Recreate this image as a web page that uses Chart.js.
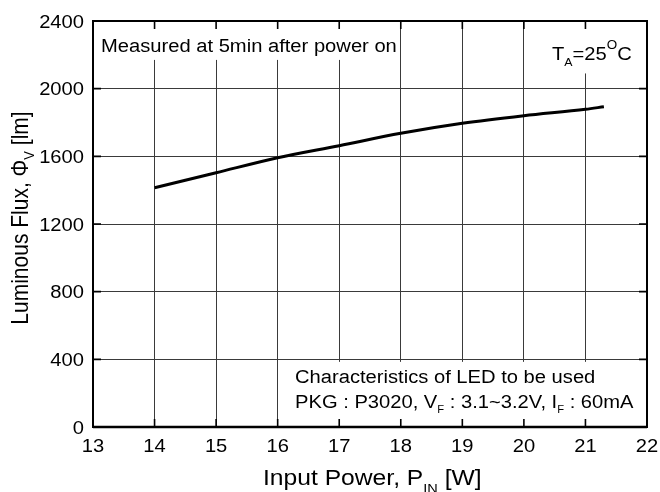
<!DOCTYPE html>
<html>
<head>
<meta charset="utf-8">
<script src="https://cdn.jsdelivr.net/npm/chart.js@4.4.1/dist/chart.umd.min.js"></script>
<style>
  html, body { margin: 0; padding: 0; background: #fff; }
  canvas { display: block; }
</style>
</head>
<body>
<canvas id="flux_chart" width="660" height="492"></canvas>
<script>
// data
const inputPower = [14, 15, 16, 17, 18, 19, 20, 21, 21.3];
const luminousFlux = [1414, 1503, 1592, 1663, 1736, 1795, 1840, 1878, 1893];
const xTicks = [13, 14, 15, 16, 17, 18, 19, 20, 21, 22];
const yTicks = [0, 400, 800, 1200, 1600, 2000, 2400];

const FONT = '"Liberation Sans", Arial, sans-serif';
const SX = 1.12; // the reference text is a little wide

// draw text made of pieces (for sub/superscripts)
function drawRich(ctx, segs, x, y, align) {
    let w = 0;
    segs.forEach(s => {
        ctx.font = s[1] + 'px ' + FONT;
        w += ctx.measureText(s[0]).width;
    });
    w *= SX;
    let start = x;
    if (align === 'right') start = x - w;
    if (align === 'center') start = x - w / 2;
    ctx.save();
    ctx.translate(start, y);
    ctx.scale(SX, 1);
    ctx.fillStyle = '#000';
    ctx.textAlign = 'left';
    ctx.textBaseline = 'alphabetic';
    let cx = 0;
    segs.forEach(s => {
        ctx.font = s[1] + 'px ' + FONT;
        ctx.fillText(s[0], cx, s[2] || 0);
        cx += ctx.measureText(s[0]).width;
    });
    ctx.restore();
}

// boxes, ticks, frame and all text
const decorPlugin = {
    id: 'decor',
    afterDraw(chart) {
        const ctx = chart.ctx;
        const xs = chart.scales.x, ys = chart.scales.y;
        const a = chart.chartArea;
        const px = v => xs.getPixelForValue(v);
        const py = v => ys.getPixelForValue(v);

        // white boxes behind the notes
        ctx.save();
        ctx.fillStyle = '#fff';
        ctx.fillRect(a.left, a.top, px(17.94) - a.left, py(2170) - a.top);
        ctx.fillRect(px(20.3), a.top, a.right - px(20.3), py(2090) - a.top);
        ctx.fillRect(px(16) + 1, py(385), a.right - px(16) - 1, a.bottom - py(385));
        ctx.restore();

        // inner ticks
        ctx.save();
        ctx.strokeStyle = '#000';
        ctx.lineWidth = 1.6;
        ctx.beginPath();
        xTicks.forEach(v => {
            const x = px(v);
            ctx.moveTo(x, a.bottom); ctx.lineTo(x, a.bottom - 8);
            ctx.moveTo(x, a.top); ctx.lineTo(x, a.top + 8);
        });
        yTicks.forEach(v => {
            const y = py(v);
            ctx.moveTo(a.left, y); ctx.lineTo(a.left + 8, y);
            ctx.moveTo(a.right, y); ctx.lineTo(a.right - 8, y);
        });
        ctx.stroke();

        // frame
        ctx.lineWidth = 2;
        ctx.strokeRect(a.left, a.top, a.right - a.left, a.bottom - a.top);
        ctx.beginPath();
        ctx.moveTo(a.left, a.bottom); ctx.lineTo(a.right, a.bottom);
        ctx.lineWidth = 2.5;
        ctx.stroke();
        ctx.restore();

        // tick labels
        xTicks.forEach(v => drawRich(ctx, [[String(v), 18]], px(v), 452, 'center'));
        yTicks.forEach(v => drawRich(ctx, [[String(v), 18]], 84, py(v) + 6.5, 'right'));

        // axis titles
        drawRich(ctx, [['Input Power, P', 22], ['IN', 13, 8], [' [W]', 22]], 263, 485, 'left');
        ctx.save();
        ctx.translate(28, 218);
        ctx.rotate(-Math.PI / 2);
        ctx.scale(1 / SX, SX);
        drawRich(ctx, [['Luminous Flux, \u03A6', 21], ['V', 13, 5], [' [lm]', 21]], 0, 0, 'center');
        ctx.restore();

        // notes
        drawRich(ctx, [['Measured at 5min after power on', 18]], 101, 52, 'left');
        drawRich(ctx, [['T', 18], ['A', 11, 6], ['=25', 18], ['O', 12, -11], ['C', 18]], 552, 60, 'left');
        drawRich(ctx, [['Characteristics of LED to be used', 18]], 295, 383, 'left');
        drawRich(ctx, [['PKG : P3020, V', 18], ['F', 10, 5], [' : 3.1~3.2V, I', 18], ['F', 10, 5], [' : 60mA', 18]], 295, 408, 'left');
    }
};

new Chart(document.getElementById('flux_chart').getContext('2d'), {
    type: 'scatter',
    data: {
        datasets: [{
            data: inputPower.map((p, i) => ({ x: p, y: luminousFlux[i] })),
            showLine: true,
            borderColor: '#000',
            borderWidth: 3,
            pointRadius: 0,
            cubicInterpolationMode: 'monotone'
        }]
    },
    options: {
        responsive: false,
        animation: false,
        layout: { padding: { left: 0, top: 21, right: 13, bottom: 0 } },
        plugins: { legend: { display: false }, tooltip: { enabled: false } },
        scales: {
            x: {
                type: 'linear', min: 13, max: 22,
                ticks: { stepSize: 1, display: false },
                grid: { color: '#3a3a3a', lineWidth: 1, drawTicks: false },
                border: { display: false },
                afterFit(scale) { scale.height = 65; }
            },
            y: {
                type: 'linear', min: 0, max: 2400,
                ticks: { stepSize: 400, display: false },
                grid: { color: '#3a3a3a', lineWidth: 1, drawTicks: false },
                border: { display: false },
                afterFit(scale) { scale.width = 93; }
            }
        }
    },
    plugins: [decorPlugin]
});
</script>
</body>
</html>
